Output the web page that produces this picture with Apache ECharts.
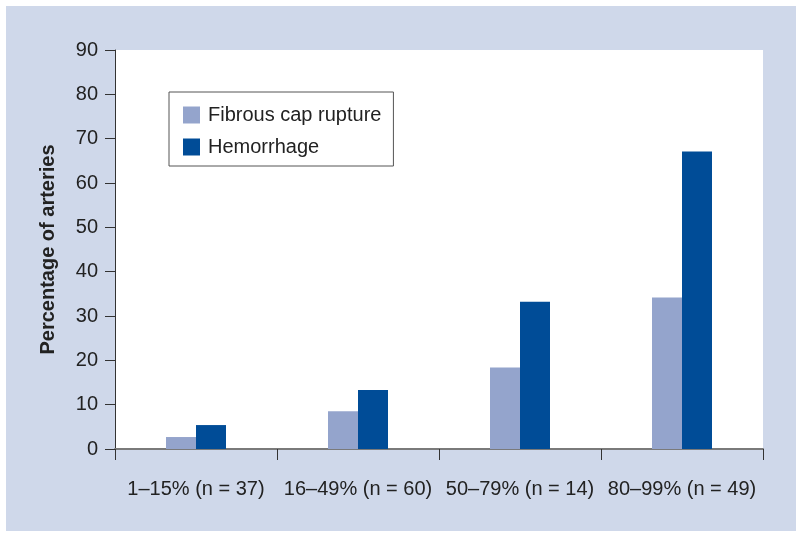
<!DOCTYPE html>
<html>
<head>
<meta charset="utf-8">
<script src="https://cdn.jsdelivr.net/npm/echarts@6/dist/echarts.min.js"></script>
<style>
  html, body { margin: 0; padding: 0; background: #fff; }
  #wrap { position: relative; width: 800px; height: 538px; background: #fff; }
  #main { position: absolute; left: 6px; top: 6px; width: 790px; height: 525px; background: #cfd8ea; }
</style>
</head>
<body>
<div id="wrap"><div id="main"></div></div>
<script>
// 类目和数据
const categories = ['1\u201315% (n = 37)', '16\u201349% (n = 60)', '50\u201379% (n = 14)', '80\u201399% (n = 49)']
const fibrousCap = [2.7, 8.5, 18.4, 34.2]
const hemorrhage = [5.4, 13.3, 33.2, 67.1]

const font = 'Liberation Sans, Arial, Helvetica, sans-serif'
const chart = echarts.init(document.getElementById('main'), null, { renderer: 'canvas' })

chart.setOption({
  animation: false,
  textStyle: { fontFamily: font },
  grid: {
    left: 109,
    top: 44,
    width: 648,
    height: 399,
    show: true,
    backgroundColor: '#fff',
    borderWidth: 0
  },
  legend: {
    left: 163,
    top: 86,
    orient: 'vertical',
    icon: 'rect',
    itemWidth: 17,
    itemHeight: 17,
    itemGap: 12,
    padding: [13, 12, 9, 14],
    backgroundColor: '#fff',
    borderColor: '#555',
    borderWidth: 1,
    textStyle: { fontSize: 20, color: '#222', fontFamily: font, padding: [0, 0, 0, 3] }
  },
  xAxis: {
    type: 'category',
    data: categories,
    boundaryGap: true,
    axisLine: { lineStyle: { color: '#7a7a7a', width: 2 } },
    axisTick: { show: true, length: 11, lineStyle: { color: '#333' } },
    axisLabel: { interval: 0, fontSize: 20, color: '#222', margin: 30, fontFamily: font }
  },
  yAxis: {
    type: 'value',
    min: 0,
    max: 90,
    interval: 10,
    name: 'Percentage of arteries',
    nameLocation: 'middle',
    nameGap: 57,
    nameRotate: 90,
    nameTextStyle: { fontSize: 20, fontWeight: 'bold', color: '#222', fontFamily: font },
    splitLine: { show: false },
    axisLine: { show: true, lineStyle: { color: '#333' } },
    axisTick: { show: true, length: 10, lineStyle: { color: '#333' } },
    axisLabel: { fontSize: 20, color: '#222', margin: 17, fontFamily: font }
  },
  series: [
    {
      name: 'Fibrous cap rupture',
      type: 'bar',
      data: fibrousCap,
      barWidth: 30,
      barGap: '0%',
      itemStyle: { color: '#94a4cc' }
    },
    {
      name: 'Hemorrhage',
      type: 'bar',
      data: hemorrhage,
      barWidth: 30,
      itemStyle: { color: '#004c97' }
    }
  ]
})
</script>
</body>
</html>
